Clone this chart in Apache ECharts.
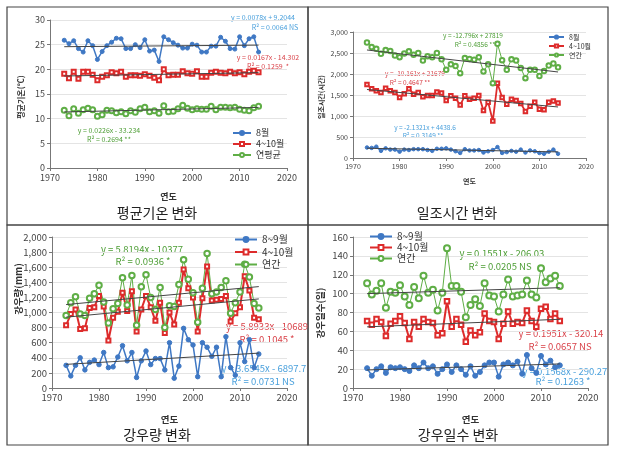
<!DOCTYPE html>
<html><head><meta charset="utf-8">
<script src="https://cdn.jsdelivr.net/npm/echarts@6/dist/echarts.min.js"></script>
<style>html,body{margin:0;padding:0;background:#fff}#c{width:619px;height:455px}</style>
</head><body><div id="c"></div>
<script>
const years = [1973,1974,1975,1976,1977,1978,1979,1980,1981,1982,1983,1984,1985,1986,1987,1988,1989,1990,1991,1992,1993,1994,1995,1996,1997,1998,1999,2000,2001,2002,2003,2004,2005,2006,2007,2008,2009,2010,2011,2012,2013,2014];
const trendYears = [1973, 2014];

// Panel 1: 평균기온
const temp_aug = [25.9,25.2,25.8,24.2,23.5,25.8,24.8,22.0,23.6,24.8,25.5,26.3,26.2,24.2,24.2,25.0,24.4,26.0,23.7,23.9,21.6,26.6,26.0,25.4,24.9,24.3,24.3,25.1,24.9,23.5,23.5,24.7,24.7,26.5,25.7,24.2,24.1,26.6,24.8,26.2,26.6,23.5];
const temp_apr_oct = [19.1,18.2,19.5,18.1,19.5,19.5,18.9,17.8,18.5,18.8,19.4,19.2,19.5,18.5,18.8,18.8,18.7,19.0,18.7,18.3,17.8,20.0,18.8,18.9,18.9,19.6,19.2,19.1,19.6,18.5,18.5,19.3,19.5,19.3,19.2,19.5,19.2,19.4,19.0,19.5,19.7,19.4];
const temp_year = [11.7,10.6,12.0,11.1,11.8,12.1,11.8,10.5,10.8,11.7,11.6,11.2,11.4,11.0,11.6,11.3,12.0,12.3,11.4,11.6,11.1,12.6,11.4,11.5,12.0,12.7,12.1,11.8,12.0,11.9,11.9,12.5,11.8,12.3,12.3,12.2,12.3,11.9,11.7,11.6,12.2,12.5];
const temp_trend_aug = [24.59, 24.91];
const temp_trend_apr_oct = [18.65, 19.33];
const temp_trend_year = [11.36, 12.28];

// Panel 2: 일조시간
const sun_aug = [250,240,270,170,230,200,200,150,200,190,210,210,210,190,170,220,220,230,200,160,120,210,180,180,190,130,160,190,260,120,140,170,150,200,130,180,160,120,100,150,200,100];
const sun_apr_oct = [1750,1650,1600,1560,1660,1600,1560,1440,1530,1650,1520,1560,1460,1490,1490,1570,1550,1370,1480,1420,1260,1480,1400,1420,1490,1130,1330,880,1780,1440,1280,1400,1370,1300,1110,1230,1330,1160,1150,1330,1360,1310];
const sun_year = [2750,2640,2600,2480,2570,2550,2440,2400,2490,2540,2460,2500,2320,2420,2400,2500,2350,2100,2230,2190,2020,2380,2360,2340,2400,2060,2230,1780,2720,2330,2100,2350,2320,2140,1900,2100,2100,1950,2070,2200,2250,2160];
const sun_trend_aug = [232, 145];
const sun_trend_apr_oct = [1631, 1215];
const sun_trend_year = [2572, 2048];

// Panel 3: 강우량
const rain_aug_sep = [300,160,300,400,240,340,370,310,470,270,280,410,560,360,470,140,360,490,310,390,390,240,600,130,290,790,640,570,150,600,540,420,540,150,680,270,170,600,350,640,270,450];
const rain_apr_oct = [830,980,1040,780,790,1060,1070,1220,1080,630,930,1010,1260,1020,1280,750,1040,1220,1070,890,1130,730,1000,840,1130,1570,1320,1200,750,1190,1610,1160,1170,1180,1220,880,990,1070,1480,1290,930,910];
const rain_year = [960,1130,1210,980,960,1190,1250,1360,1140,860,1050,1120,1460,1100,1490,830,1340,1500,1200,1040,1330,800,1090,1080,1370,1700,1440,1260,870,1320,1780,1250,1270,1330,1420,990,1130,1270,1640,1470,1120,1060];
const rain_trend_aug_sep = [313, 462];
const rain_trend_apr_oct = [938, 1180];
const rain_trend_year = [1105, 1343];

// Panel 4: 강우일수
const days_aug_sep = [21,13,20,23,16,22,21,22,20,18,24,21,27,21,23,15,20,25,17,24,20,14,23,13,17,24,27,27,12,25,27,24,28,15,35,21,16,34,25,29,22,24];
const days_apr_oct = [71,67,73,70,55,68,71,76,69,52,70,65,73,70,69,56,58,92,65,73,67,49,61,56,59,79,71,70,52,68,81,68,70,69,82,71,65,84,86,73,79,71];
const days_year = [111,99,103,111,85,102,101,109,97,88,107,95,119,101,104,82,101,148,108,108,102,75,88,94,87,111,98,97,81,99,115,97,98,99,114,99,96,127,112,116,119,108];
const days_trend_aug_sep = [19.1, 25.5];
const days_trend_apr_oct = [64.8, 72.8];
const days_trend_year = [100.0, 106.3];

const titles = ['평균기온 변화','일조시간 변화','강우량 변화','강우일수 변화'];
const yNames = ['평균기온(℃)','일조시간(시간)','강우량(mm)','강우일수(일)'];
const xName = '연도';

const BLUE = '#3f78c4', RED = '#dd2b2b', GREEN = '#5fae46';
const BLUE_T = '#4aa0dc', RED_T = '#d9434a', GREEN_T = '#4e9e36';
const FONT = '"Noto Sans CJK KR", "Noto Sans", sans-serif';

const grids = [
  {left: 50, top: 20, width: 237, height: 148},
  {left: 353, top: 32, width: 233, height: 126},
  {left: 52, top: 237, width: 235, height: 151},
  {left: 353, top: 237, width: 235, height: 151}
];
const yCfg = [
  {max: 30, interval: 5, fs: 9},
  {max: 3000, interval: 500, fs: 7},
  {max: 2000, interval: 200, fs: 9.5},
  {max: 160, interval: 20, fs: 9.5}
];
const xFs = [9, 7, 9.5, 9.5];
const xGap = [24, 20, 27, 27];

const fmtComma = v => String(v).replace(/\B(?=(\d{3})+(?!\d))/g, ',');

const xAxes = grids.map((g, i) => ({
  type: 'value', gridIndex: i, min: 1970, max: 2020, interval: 10,
  name: xName, nameLocation: 'middle', nameGap: xGap[i],
  nameTextStyle: {fontSize: xFs[i], fontWeight: 'bold', color: '#333', fontFamily: FONT},
  axisLine: {show: true, lineStyle: {color: '#777'}},
  axisTick: {show: true, length: 3, lineStyle: {color: '#777'}},
  axisLabel: {fontSize: xFs[i], color: '#444', fontFamily: FONT, margin: 5, formatter: v => String(v)},
  splitLine: {show: false}
}));
const yAxes = grids.map((g, i) => ({
  type: 'value', gridIndex: i, min: 0, max: yCfg[i].max, interval: yCfg[i].interval,
  axisLine: {show: true, lineStyle: {color: '#777'}},
  axisTick: {show: true, length: 3, lineStyle: {color: '#777'}},
  axisLabel: {fontSize: yCfg[i].fs, color: '#444', fontFamily: FONT, margin: 5,
    formatter: v => fmtComma(v)},
  splitLine: {show: true, lineStyle: {color: '#e4e4e4'}}
}));

function pts(vals) { return years.map((y, k) => [y, vals[k]]); }
function tpts(vals) { return trendYears.map((y, k) => [y, vals[k]]); }

function dataSeries(name, idx, vals, color, symbol, size, width) {
  return {type: 'line', name, xAxisIndex: idx, yAxisIndex: idx, data: pts(vals),
    symbol, symbolSize: size, showSymbol: true,
    lineStyle: {color, width}, itemStyle: {color, borderColor: color, borderWidth: 1},
    animation: false, z: 2};
}
function trendSeries(idx, vals) {
  return {type: 'line', name: 'trend' + idx, xAxisIndex: idx, yAxisIndex: idx, data: tpts(vals),
    symbol: 'none', lineStyle: {color: '#444', width: 1}, animation: false, z: 3,
    silent: true};
}

const series = [
  dataSeries('8월', 0, temp_aug, BLUE, 'circle', 4, 1.5),
  dataSeries('4~10월', 0, temp_apr_oct, RED, 'emptyRect', 4, 1.8),
  dataSeries('연평균', 0, temp_year, GREEN, 'emptyCircle', 5, 1),
  trendSeries(0, temp_trend_aug), trendSeries(0, temp_trend_apr_oct), trendSeries(0, temp_trend_year),

  dataSeries('8월', 1, sun_aug, BLUE, 'circle', 3.5, 1.5),
  dataSeries('4~10월', 1, sun_apr_oct, RED, 'emptyRect', 3.5, 1.8),
  dataSeries('연간', 1, sun_year, GREEN, 'emptyCircle', 4.5, 1),
  trendSeries(1, sun_trend_aug), trendSeries(1, sun_trend_apr_oct), trendSeries(1, sun_trend_year),

  dataSeries('8~9월', 2, rain_aug_sep, BLUE, 'circle', 4.5, 1.5),
  dataSeries('4~10월', 2, rain_apr_oct, RED, 'emptyRect', 4, 2),
  dataSeries('연간', 2, rain_year, GREEN, 'emptyCircle', 5.5, 1),
  trendSeries(2, rain_trend_aug_sep), trendSeries(2, rain_trend_apr_oct), trendSeries(2, rain_trend_year),

  dataSeries('8~9월', 3, days_aug_sep, BLUE, 'circle', 5, 1.5),
  dataSeries('4~10월', 3, days_apr_oct, RED, 'emptyRect', 4.5, 2),
  dataSeries('연간', 3, days_year, GREEN, 'emptyCircle', 6, 1),
  trendSeries(3, days_trend_aug_sep), trendSeries(3, days_trend_apr_oct), trendSeries(3, days_trend_year)
];

function legend(names, left, top, fs, iw, ih, gap) {
  return {orient: 'vertical', left, top, itemWidth: iw, itemHeight: ih, itemGap: gap,
    data: names, selectedMode: false,
    textStyle: {fontSize: fs, color: '#333', fontFamily: FONT, lineHeight: fs + 1}};
}
const legends = [
  legend(['8월','4~10월','연평균'], 227, 123, 9, 18, 5, 1),
  legend(['8월','4~10월','연간'], 543, 28, 7, 15, 4, 1),
  legend(['8~9월','4~10월','연간'], 229, 229, 10, 22, 6, 1.5),
  legend(['8~9월','4~10월','연간'], 364, 226, 10, 22, 6, 0)
];

function txt(text, x, y, color, fs, extra) {
  return Object.assign({type: 'text', x, y, silent: true,
    style: {text, fill: color, fontSize: fs, fontFamily: FONT, align: 'center', verticalAlign: 'middle'}}, extra || {});
}
function vtxt(text, x, y, fs) {
  return {type: 'text', x, y, rotation: Math.PI / 2, silent: true,
    style: {text, fill: '#333', fontSize: fs, fontWeight: 'bold', fontFamily: FONT, align: 'center', verticalAlign: 'middle'}};
}

const graphic = [
  {type: 'rect', shape: {x: 7, y: 7, width: 301, height: 218}, style: {fill: 'none', stroke: '#444', lineWidth: 1.2}, silent: true},
  {type: 'rect', shape: {x: 308, y: 7, width: 300, height: 218}, style: {fill: 'none', stroke: '#444', lineWidth: 1.2}, silent: true},
  {type: 'rect', shape: {x: 7, y: 225, width: 301, height: 220}, style: {fill: 'none', stroke: '#444', lineWidth: 1.2}, silent: true},
  {type: 'rect', shape: {x: 308, y: 225, width: 300, height: 220}, style: {fill: 'none', stroke: '#444', lineWidth: 1.2}, silent: true},
  txt(titles[0], 157, 213, '#222', 14),
  txt(titles[1], 457, 213, '#222', 14),
  txt(titles[2], 157, 435, '#222', 14),
  txt(titles[3], 458, 435, '#222', 14),
  vtxt(yNames[0], 21, 97, 8),
  vtxt(yNames[1], 321, 97, 7),
  vtxt(yNames[2], 18, 289, 9.5),
  vtxt(yNames[3], 320, 313, 9.5),
  txt('y = 0.0078x + 9.2044', 263, 17, BLUE_T, 7),
  txt('R² = 0.0064 NS', 275, 27, BLUE_T, 7),
  txt('y = 0.0167x - 14.302', 268, 57, RED_T, 7),
  txt('R² = 0.1259  *', 268, 66, RED_T, 7),
  txt('y = 0.0226x - 33.234', 109, 130, GREEN_T, 7),
  txt('R² = 0.2694 **', 109, 139, GREEN_T, 7),
  txt('y = -12.796x + 27819', 473, 36, GREEN_T, 6.5),
  txt('R² = 0.4856 **', 475, 45, GREEN_T, 6.5),
  txt('y = -10.161x + 21679', 415, 74, RED_T, 6.5),
  txt('R² = 0.4647 **', 410, 83, RED_T, 6.5),
  txt('y = -2.1321x + 4438.6', 425, 128, BLUE_T, 6.5),
  txt('R² = 0.3149 **', 423, 136, BLUE_T, 6.5),
  txt('y = 5.8194x - 10377', 142, 249, GREEN_T, 9.5),
  txt('R² = 0.0936 *', 143, 261, GREEN_T, 9.5),
  txt('y = 5.8933x - 10689', 267, 326, RED_T, 9.5),
  txt('R² = 0.1045 *', 267, 339, RED_T, 9.5),
  txt('y = 3.6545x - 6897.7', 264, 368, BLUE_T, 9.5),
  txt('R² = 0.0731 NS', 263, 381, BLUE_T, 9.5),
  txt('y = 0.1551x - 206.03', 502, 253, GREEN_T, 9.5),
  txt('R² = 0.0205 NS', 500, 266, GREEN_T, 9.5),
  txt('y = 0.1951x - 320.14', 561, 333, RED_T, 9.5),
  txt('R² = 0.0657 NS', 560, 346, RED_T, 9.5),
  txt('y = 0.1568x - 290.27', 565, 371, BLUE_T, 9.5),
  txt('R² = 0.1263 *', 563, 381, BLUE_T, 9.5)
];

const chart = echarts.init(document.getElementById('c'), null, {renderer: 'canvas'});
chart.setOption({
  backgroundColor: '#fff',
  animation: false,
  grid: grids,
  xAxis: xAxes,
  yAxis: yAxes,
  legend: legends,
  series,
  graphic
});
</script>
</body></html>
